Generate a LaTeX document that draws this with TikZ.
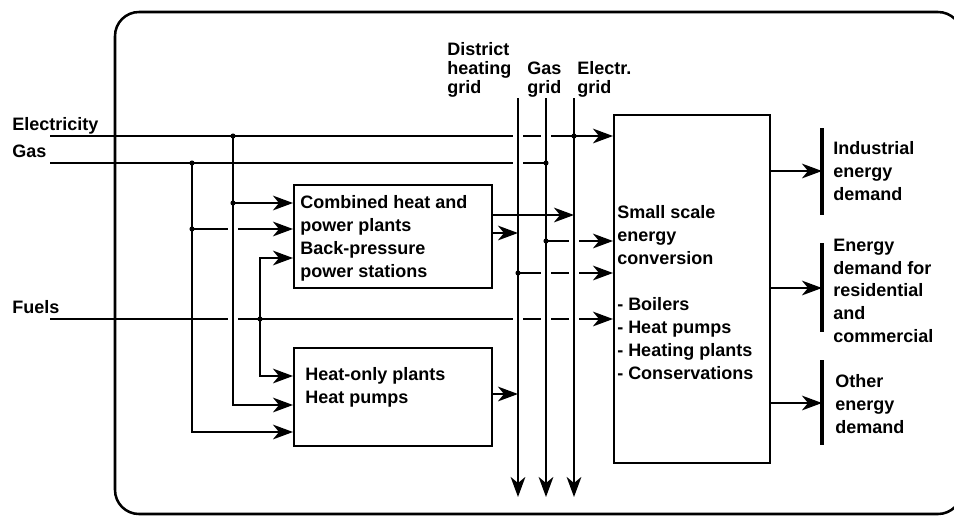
\documentclass[tikz,border=0pt]{standalone}
\usepackage{fontspec}
\setmainfont{Liberation Sans}
\usetikzlibrary{arrows.meta}
\begin{document}
\begin{tikzpicture}[x=0.75pt,y=-0.75pt,
  every node/.style={inner sep=0pt, align=left},
  txt/.style={font=\bfseries\fontsize{13.5}{17.25}\selectfont},
  gridtxt/.style={font=\bfseries\fontsize{13.5}{14.2}\selectfont},
  outtxt/.style={font=\bfseries\fontsize{13.5}{17}\selectfont},
  ln/.style={line width=1.6pt},
  arr/.style={ln, -{Stealth[length=15pt,width=11pt,inset=4.5pt]}},
  boxst/.style={draw, line width=1.6pt, rectangle, anchor=north west},
  bar/.style={line width=2.6pt},
  gap/.style={fill=white},
  dot/.style={fill=black}]
\clip (0,0) rectangle (954,515);
\fill[white] (0,0) rectangle (954,515);
% outer frame
\draw[line width=1.9pt, rounded corners=18pt] (115,12) rectangle (962,514);

% boxes
\node[boxst, minimum width=148.5pt, minimum height=77.25pt] (chp) at (293,184) {};
\node[boxst, minimum width=148.5pt, minimum height=73.5pt] (how) at (293,347) {};
\node[boxst, minimum width=117pt, minimum height=261pt] (small) at (613,114) {};

% input labels
\node[txt, anchor=base west] (lelec) at (12,130) {Electricity};
\node[txt, anchor=base west] (lgas) at (12,157) {Gas};
\node[txt, anchor=base west] (lfuel) at (12,313) {Fuels};

% grid labels (anchored at the baseline of the last line)
\node[gridtxt, anchor=base west] (ldh) at (447,93) {District\\heating\\grid};
\node[gridtxt, anchor=base west] (lgg) at (527,93) {Gas\\grid};
\node[gridtxt, anchor=base west] (leg) at (577,93) {Electr.\\grid};

% box texts
\node[txt, anchor=base west] (tchp) at (300,277) {Combined heat and\\power plants\\Back-pressure\\power stations};
\node[txt, anchor=base west] (thow) at (305,403) {Heat-only plants\\Heat pumps};
\node[txt, anchor=base west] (tsmall) at (617,379) {Small scale\\energy\\conversion\\[17.25pt]- Boilers\\- Heat pumps\\- Heating plants\\- Conservations};

% output labels
\node[outtxt, anchor=base west] (tind) at (833,200) {Industrial\\energy\\demand};
\node[outtxt, anchor=base west] (tres) at (833,342) {Energy\\demand for\\residential\\and\\commercial};
\node[outtxt, anchor=base west] (toth) at (835,433) {Other\\energy\\demand};

% coordinates
\coordinate (eIn) at (50,136);
\coordinate (gIn) at (50,163);
\coordinate (fIn) at (50,319);
\coordinate (gEnd) at (546,163);
\coordinate (eTap) at (233,136);
\coordinate (gTap) at (192,163);
\coordinate (fTap) at (260,319);
\coordinate (eBr) at (233,203);
\coordinate (gBr) at (192,229);
\coordinate (dhTop) at (518,98);
\coordinate (ggTop) at (546,98);
\coordinate (egTop) at (574,98);
\coordinate (dhBot) at (518,497);
\coordinate (ggBot) at (546,497);
\coordinate (egBot) at (574,497);
\coordinate (ggOut) at (546,241);
\coordinate (dhOut) at (518,273);
\coordinate (b1) at (822,171);
\coordinate (b2) at (822,288);
\coordinate (b3) at (822,403);

% horizontal lines
\draw[arr] (eIn) -- (small.west |- eIn);
\draw[ln] (gIn) -- (gEnd);
\draw[arr] (fIn) -- (small.west |- fIn);
\draw[arr] (eBr) -- (chp.west |- eBr);
\draw[arr] (gBr) -- (chp.west |- gBr);
\draw[arr] (chp.east |- 0,215) -- (574,215);
\draw[arr] (chp.east |- 0,233) -- (518,233);
\draw[arr] (how.east |- 0,394) -- (518,394);
\draw[arr] (ggOut) -- (small.west |- ggOut);
\draw[arr] (dhOut) -- (small.west |- dhOut);

% crossing gaps
\foreach \gx/\gy in {233/229, 233/319, 518/136, 546/136, 518/163, 574/241, 546/273, 574/273, 518/319, 546/319, 574/319}
  \fill[gap] (\gx-5,\gy-3.5) rectangle (\gx+5,\gy+3.5);

% vertical buses
\draw[arr] (eTap) |- (how.west |- 0,405);
\draw[arr] (gTap) |- (how.west |- 0,432);
\draw[arr] (fTap) |- (chp.west |- 0,258);
\draw[arr] (fTap) |- (how.west |- 0,376);
\draw[arr] (dhTop) -- (dhBot);
\draw[arr] (ggTop) -- (ggBot);
\draw[arr] (egTop) -- (egBot);

% outputs
\draw[arr] (small.east |- b1) -- (b1);
\draw[arr] (small.east |- b2) -- (b2);
\draw[arr] (small.east |- b3) -- (b3);
\draw[bar] (822,128) -- (822,215);
\draw[bar] (822,243) -- (822,332);
\draw[bar] (822,360) -- (822,445);

% junction dots
\foreach \dx/\dy in {233/136, 192/163, 233/203, 192/229, 260/319, 574/136, 546/163, 546/241, 518/273}
  \fill[dot] (\dx,\dy) circle[radius=1.9pt];
\end{tikzpicture}
\end{document}
